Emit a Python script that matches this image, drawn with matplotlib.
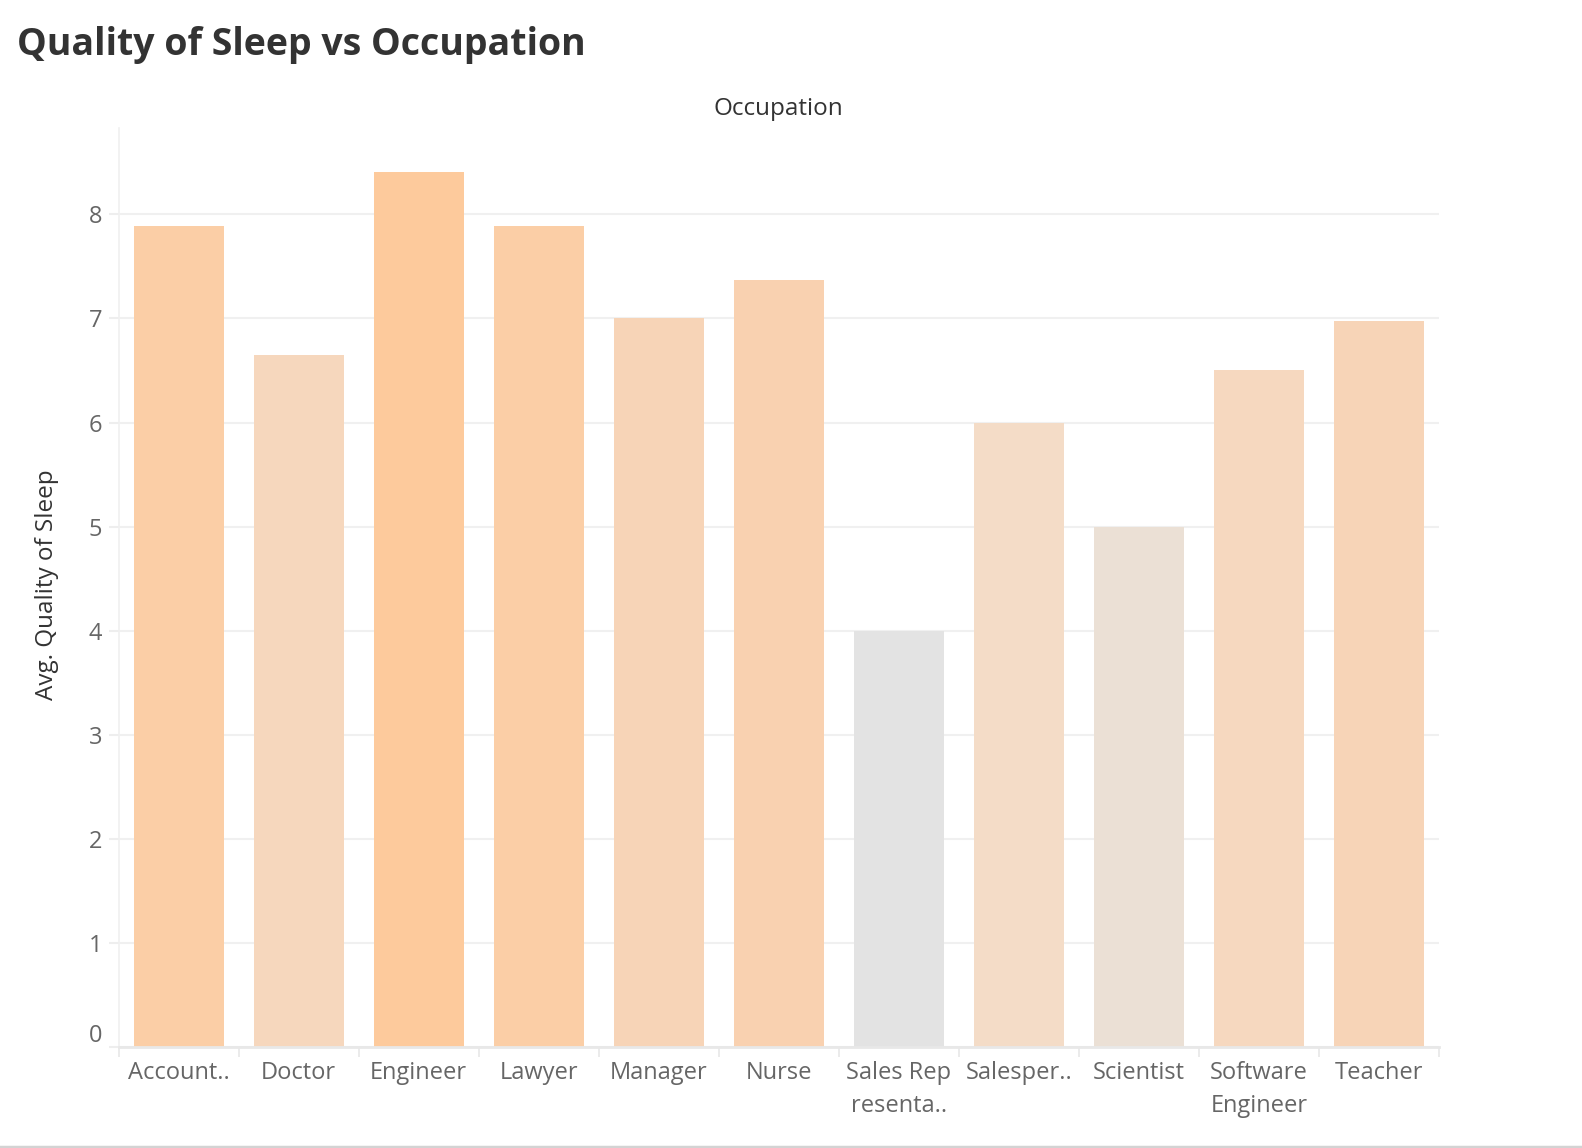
import matplotlib
matplotlib.use("Agg")
import matplotlib.pyplot as plt
from matplotlib.colors import LinearSegmentedColormap, Normalize
from matplotlib.lines import Line2D
import matplotlib.transforms as mtransforms
import numpy as np

occupations = ["Accountant", "Doctor", "Engineer", "Lawyer", "Manager", "Nurse",
               "Sales Representative", "Salesperson", "Scientist",
               "Software Engineer", "Teacher"]
tick_labels = ["Account..", "Doctor", "Engineer", "Lawyer", "Manager", "Nurse",
               "Sales Rep\nresenta..", "Salesper..", "Scientist",
               "Software\nEngineer", "Teacher"]
avg_quality = [7.89, 6.65, 8.41, 7.89, 7.00, 7.37, 4.00, 6.00, 5.00, 6.50, 6.98]
y_ticks = [0, 1, 2, 3, 4, 5, 6, 7, 8]

plt.rcParams['font.family'] = ['Open Sans', 'DejaVu Sans']

W, H = 1582, 1148
fig = plt.figure(figsize=(W / 100, H / 100), dpi=100)
fig.patch.set_facecolor("white")

left, right, top, bottom = 118.7, 1439, 128, 1047
ax = fig.add_axes([left / W, 1 - bottom / H, (right - left) / W, (bottom - top) / H])

cmap = LinearSegmentedColormap.from_list(
    "sleep", [(0.0, "#E3E3E3"), (0.23, "#EBE0D5"), (0.45, "#F4DCC7"),
              (0.68, "#F7D4B7"), (1.0, "#FDCA9C")])
norm = Normalize(vmin=min(avg_quality), vmax=max(avg_quality))
colors = [cmap(norm(v)) for v in avg_quality]

x = np.arange(len(occupations))
ax.bar(x, avg_quality, width=0.75, color=colors, zorder=2)

ax.set_xlim(-0.5, len(occupations) - 0.5)
ax.set_ylim(0, 8.83)
ax.set_yticks(y_ticks)
ax.set_yticklabels([str(t) for t in y_ticks])
ax.set_xticks(x)
ax.set_xticklabels(tick_labels, linespacing=1.5)
ax.set_xticks(np.arange(-0.5, len(occupations)), minor=True)

ax.grid(axis="y", color="#F0F0F0", linewidth=1.5, zorder=0)
ax.set_axisbelow(True)

for s in ["top", "right"]:
    ax.spines[s].set_visible(False)
ax.spines["left"].set_color("#F0F0F0")
ax.spines["left"].set_linewidth(1.2)
ax.spines["bottom"].set_color("#E8E8E8")
ax.spines["bottom"].set_linewidth(2)

ax.tick_params(axis="x", which="major", length=0, pad=10, labelsize=17, labelcolor="#666666")
ax.tick_params(axis="x", which="minor", length=7, width=1.2, color="#E8E8E8")
ax.tick_params(axis="y", which="major", length=7, width=1.5, color="#EEEEEE", pad=5,
               labelsize=17, labelcolor="#666666")

# Lift the "0" label above the baseline as in the reference
zero_lbl = ax.get_yticklabels()[0]
zero_lbl.set_transform(zero_lbl.get_transform() +
                       mtransforms.ScaledTranslation(0, 14 / 100, fig.dpi_scale_trans))

ax.set_ylabel("Avg. Quality of Sleep", fontsize=17.5, color="#333333")
ax.yaxis.set_label_coords(-(left - 59) / (right - left), (bottom - 585) / (bottom - top))

fig.text((left + right) / 2 / W, 1 - 109 / H, "Occupation", ha="center", va="center",
         fontsize=17.5, color="#333333")

fig.text(17 / W, 1 - 45 / H, "Quality of Sleep vs Occupation", ha="left", va="center",
         fontsize=27, fontweight="bold", color="#333333")

fig.add_artist(Line2D([0, 1], [1.5 / H, 1.5 / H], color="#D3D3D3", linewidth=2.5,
                      transform=fig.transFigure))

fig.savefig("out.png", dpi=100, facecolor="white")
